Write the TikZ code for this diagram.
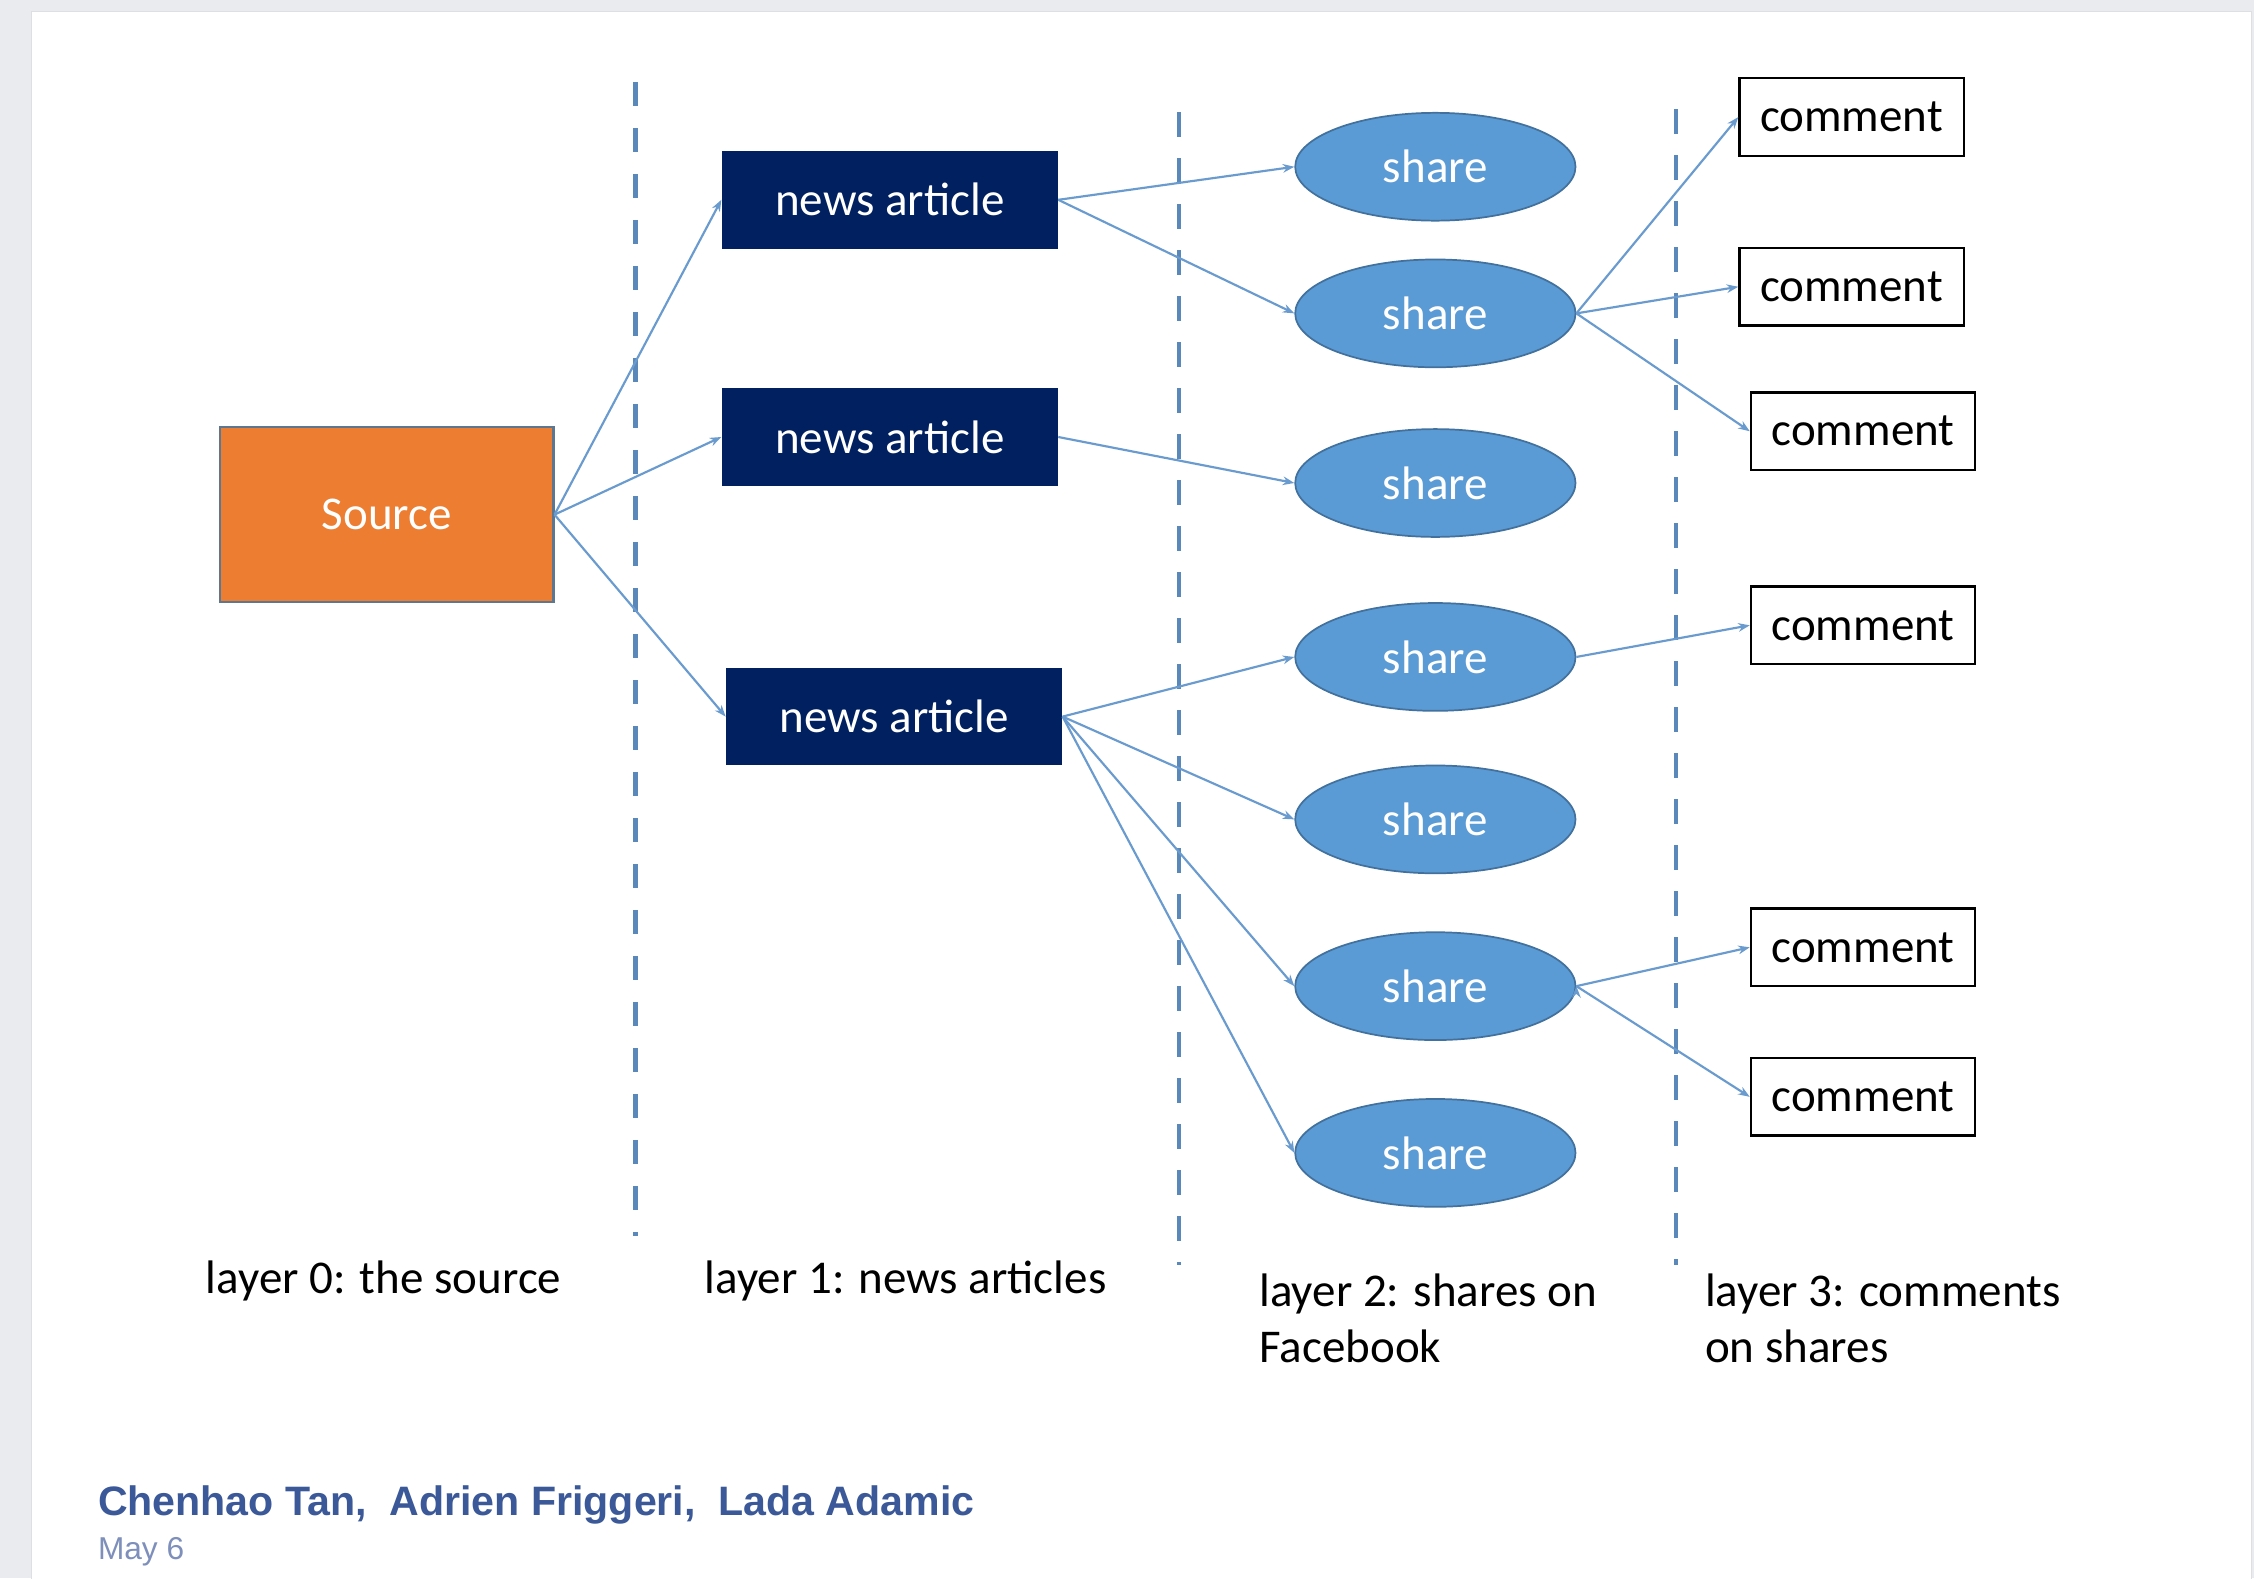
\documentclass[tikz,border=0pt]{standalone}
\usepackage{fontspec}
\setmainfont{Carlito}
\newfontfamily\fbfont{Liberation Sans}
\usetikzlibrary{arrows.meta,positioning,shapes.geometric}

\definecolor{fbgray}{HTML}{E9EBEE}
\definecolor{cardline}{HTML}{DDDFE2}
\definecolor{srcorange}{HTML}{ED7D31}
\definecolor{srcline}{HTML}{5E7790}
\definecolor{navy}{HTML}{002060}
\definecolor{shareblue}{HTML}{5B9BD5}
\definecolor{sharedark}{HTML}{41719C}
\definecolor{linkblue}{HTML}{6A9BCF}
\definecolor{layerblue}{HTML}{5B88BA}
\definecolor{fbblue}{HTML}{3B5998}
\definecolor{fbdate}{HTML}{7D8FBA}

\begin{document}
\begin{tikzpicture}[x=1pt,y=-1pt,>={Stealth[length=8pt,width=6pt]},
  font=\fontsize{32.7}{39}\selectfont]
  \tikzstyle{source}=[draw=srcline, line width=1.5pt, fill=srcorange, text=white,
    minimum width=232pt, minimum height=122pt]
  \tikzstyle{article}=[fill=navy, text=white, minimum width=234pt, minimum height=68pt]
  \tikzstyle{share}=[ellipse, draw=sharedark, line width=1.2pt, fill=shareblue,
    text=white, inner sep=0pt, minimum width=195pt, minimum height=75pt]
  \tikzstyle{comment}=[draw=black, line width=1.6pt, fill=white,
    minimum width=156pt, minimum height=54pt]
  \tikzstyle{divider}=[layerblue, line width=3pt, dash pattern=on 17pt off 15pt]
  \tikzstyle{link}=[draw=linkblue, line width=1.5pt]
  \tikzstyle{caption}=[anchor=base west, inner sep=0pt, align=left]

  % frame of the post
  \useasboundingbox (0,0) rectangle (1568,1098);
  \fill[fbgray] (0,0) rectangle (1568,1098);
  \fill[white, draw=cardline] (22,8) rectangle (1566,1100);

  % layer dividers
  \draw[divider] (442,57) -- (442,860);
  \draw[divider] (820,78) -- (820,880);
  \draw[divider] (1166,76) -- (1166,880);

  \node[source]  (src) at (269,358)   {Source};

  \node[article] (na1) at (619,139)   {news article};
  \node[article] (na2) at (619,304)   {news article};
  \node[article] (na3) at (622,498.5) {news article};

  \node[share] (sh1) at (998.5,116) {share};
  \node[share] (sh2) at (998.5,218) {share};
  \node[share] (sh3) at (998.5,336) {share};
  \node[share] (sh4) at (998.5,457) {share};
  \node[share] (sh5) at (998.5,570) {share};
  \node[share] (sh6) at (998.5,686) {share};
  \node[share] (sh7) at (998.5,802) {share};

  \node[comment] (cm1) at (1288,81.5)  {comment};
  \node[comment] (cm2) at (1288,199.5) {comment};
  \node[comment] (cm3) at (1296,300)   {comment};
  \node[comment] (cm4) at (1296,435)   {comment};
  \node[comment] (cm5) at (1296,659)   {comment};
  \node[comment] (cm6) at (1296,763)   {comment};

  \path[->, link]
  (src.east) edge (na1.west)
             edge (na2.west)
             edge (na3.west)
  (na1.east) edge (sh1.west)
             edge (sh2.west)
  (na2.east) edge (sh3.west)
  (na3.east) edge (sh4.west)
             edge (sh5.west)
             edge (sh6.west)
             edge (sh7.west)
  (sh2.east) edge (cm1.west)
             edge (cm2.west)
             edge (cm3.west)
  (sh4.east) edge (cm4.west)
  (sh6.east) edge (cm5.west)
             edge (cm6.west);

  % layer captions (two-line ones sit on their last line)
  \node[caption] (lay0) at (143,900) {layer 0: the source};
  \node[caption] (lay1) at (490,900) {layer 1: news articles};
  \node[caption] (lay2) at (876,948) {layer 2: shares on\\Facebook};
  \node[caption] (lay3) at (1186,948) {layer 3: comments\\on shares};

  % post footer
  \node[caption, text=fbblue, font=\fbfont\bfseries\fontsize{28.6}{30}\selectfont]
    (authors) at (68,1054) {Chenhao Tan,\ \ Adrien Friggeri,\ \ Lada Adamic};
  \node[caption, text=fbdate, font=\fbfont\fontsize{22}{24}\selectfont]
    (date) at (68,1085) {May 6};
\end{tikzpicture}
\end{document}
